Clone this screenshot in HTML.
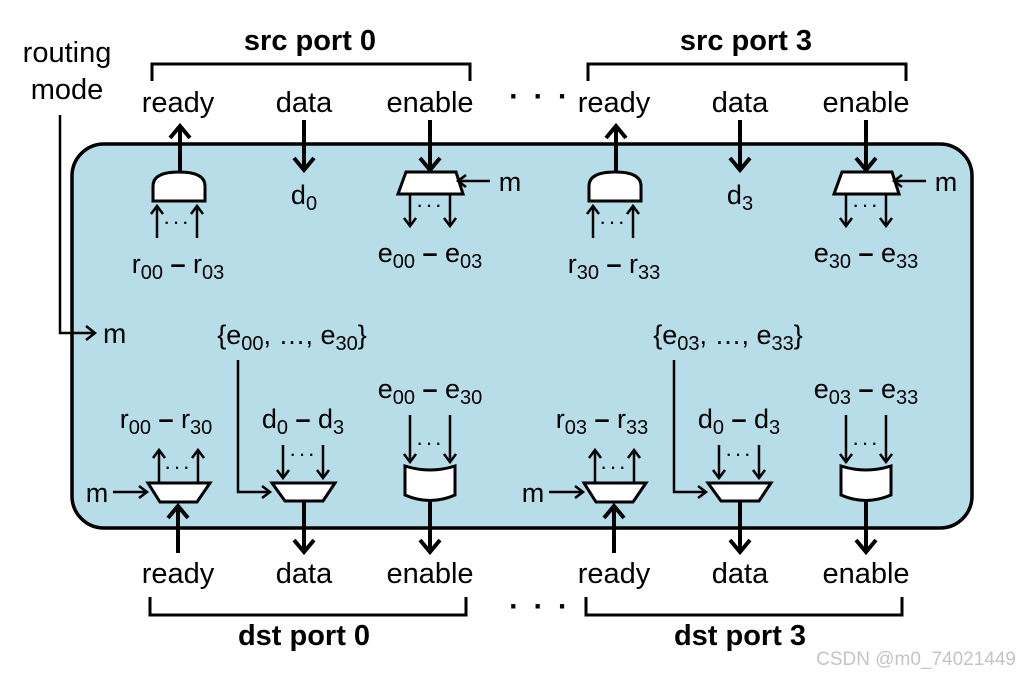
<!DOCTYPE html>
<html><head><meta charset="utf-8"><style>
html,body{margin:0;padding:0;background:#fff;}
svg{display:block;}
text{font-family:"Liberation Sans",Arial,sans-serif;fill:#000;}
</style></head><body>
<svg width="1020" height="674" viewBox="0 0 1020 674" xmlns="http://www.w3.org/2000/svg">
<!-- container -->
<rect x="72" y="144" width="900" height="384" rx="32" ry="32" fill="#b7dde8" stroke="#000" stroke-width="3.5"/>

<!-- routing mode -->
<text x="67" y="62" font-size="29" text-anchor="middle">routing</text>
<text x="67" y="99" font-size="29" text-anchor="middle">mode</text>
<polyline points="60,115 60,333 95,333" fill="none" stroke="#000" stroke-width="2.5"/>
<polyline points="86,326 95,333 86,340" fill="none" stroke="#000" stroke-width="2.5"/>
<text x="103" y="343" font-size="28">m</text>

<!-- dots -->
<text x="540" y="106" font-size="30" text-anchor="middle" font-weight="bold" letter-spacing="3">· · ·</text>
<text x="540" y="616" font-size="30" text-anchor="middle" font-weight="bold" letter-spacing="3">· · ·</text>

<!-- watermark -->
<text x="1016" y="665" font-size="19" text-anchor="end" style="fill:#c4c4c4">CSDN @m0_74021449</text>

<g id="port0">
  <polyline points="152,81 152,64 470,64 470,81" fill="none" stroke="#000" stroke-width="3"/>
  <polyline points="150,597 150,615 466,615 466,597" fill="none" stroke="#000" stroke-width="3"/>
  <text x="178" y="112" font-size="29" text-anchor="middle">ready</text>
  <text x="304" y="112" font-size="29" text-anchor="middle">data</text>
  <text x="430" y="112" font-size="29" text-anchor="middle">enable</text>
  <text x="178" y="583" font-size="29" text-anchor="middle">ready</text>
  <text x="304" y="583" font-size="29" text-anchor="middle">data</text>
  <text x="430" y="583" font-size="29" text-anchor="middle">enable</text>

  <line x1="180" y1="172" x2="180" y2="126" stroke="#000" stroke-width="4"/>
  <polyline points="170,138 180,126 190,138" fill="none" stroke="#000" stroke-width="4"/>
  <path d="M153,201 L153,186 Q153,172 179,172 Q205,172 205,186 L205,201 Z" fill="#fff" stroke="#000" stroke-width="3"/>
  <line x1="157" y1="238" x2="157" y2="206" stroke="#000" stroke-width="2.5"/>
  <polyline points="151,214 157,206 163,214" fill="none" stroke="#000" stroke-width="2.5"/>
  <line x1="197" y1="238" x2="197" y2="206" stroke="#000" stroke-width="2.5"/>
  <polyline points="191,214 197,206 203,214" fill="none" stroke="#000" stroke-width="2.5"/>
  <text x="177" y="229" font-size="22" text-anchor="middle" letter-spacing="2">···</text>

  <line x1="304" y1="120" x2="304" y2="170" stroke="#000" stroke-width="4"/>
  <polyline points="294,158 304,170 314,158" fill="none" stroke="#000" stroke-width="4"/>

  <line x1="430" y1="120" x2="430" y2="170" stroke="#000" stroke-width="4"/>
  <polyline points="420,158 430,170 440,158" fill="none" stroke="#000" stroke-width="4"/>
  <polygon points="406,172 456,172 463,194 398,194" fill="#fff" stroke="#000" stroke-width="3"/>
  <line x1="458" y1="181" x2="490" y2="181" stroke="#000" stroke-width="2.5"/>
  <polyline points="466,175 458,181 466,187" fill="none" stroke="#000" stroke-width="2.5"/>
  <line x1="410" y1="195" x2="410" y2="226" stroke="#000" stroke-width="2.5"/>
  <polyline points="404,218 410,226 416,218" fill="none" stroke="#000" stroke-width="2.5"/>
  <line x1="450" y1="195" x2="450" y2="226" stroke="#000" stroke-width="2.5"/>
  <polyline points="444,218 450,226 456,218" fill="none" stroke="#000" stroke-width="2.5"/>
  <text x="430" y="212" font-size="22" text-anchor="middle" letter-spacing="2">···</text>

  <polygon points="148,483 210,483 197,502 160,502" fill="#fff" stroke="#000" stroke-width="3"/>
  <line x1="113" y1="492" x2="147" y2="492" stroke="#000" stroke-width="2.5"/>
  <polyline points="139,486 147,492 139,498" fill="none" stroke="#000" stroke-width="2.5"/>
  <line x1="159" y1="482" x2="159" y2="450" stroke="#000" stroke-width="2.5"/>
  <polyline points="153,458 159,450 165,458" fill="none" stroke="#000" stroke-width="2.5"/>
  <line x1="198" y1="482" x2="198" y2="450" stroke="#000" stroke-width="2.5"/>
  <polyline points="192,458 198,450 204,458" fill="none" stroke="#000" stroke-width="2.5"/>
  <text x="178" y="474" font-size="22" text-anchor="middle" letter-spacing="2">···</text>
  <line x1="178" y1="553" x2="178" y2="506" stroke="#000" stroke-width="4"/>
  <polyline points="168,518 178,506 188,518" fill="none" stroke="#000" stroke-width="4"/>

  <polyline points="238,360 238,492 270,492" fill="none" stroke="#000" stroke-width="2.5"/>
  <polyline points="262,486 270,492 262,498" fill="none" stroke="#000" stroke-width="2.5"/>
  <polygon points="272,483 335,483 323,501 285,501" fill="#fff" stroke="#000" stroke-width="3"/>
  <line x1="283" y1="445" x2="283" y2="478" stroke="#000" stroke-width="2.5"/>
  <polyline points="277,470 283,478 289,470" fill="none" stroke="#000" stroke-width="2.5"/>
  <line x1="323" y1="445" x2="323" y2="478" stroke="#000" stroke-width="2.5"/>
  <polyline points="317,470 323,478 329,470" fill="none" stroke="#000" stroke-width="2.5"/>
  <text x="303" y="461" font-size="22" text-anchor="middle" letter-spacing="2">···</text>
  <line x1="304" y1="502" x2="304" y2="552" stroke="#000" stroke-width="4"/>
  <polyline points="294,540 304,552 314,540" fill="none" stroke="#000" stroke-width="4"/>

  <path d="M405,466 Q430,474 455,466 L455,495 Q430,506 405,495 Z" fill="#fff" stroke="#000" stroke-width="3"/>
  <line x1="410" y1="415" x2="410" y2="462" stroke="#000" stroke-width="2.5"/>
  <polyline points="404,454 410,462 416,454" fill="none" stroke="#000" stroke-width="2.5"/>
  <line x1="450" y1="415" x2="450" y2="462" stroke="#000" stroke-width="2.5"/>
  <polyline points="444,454 450,462 456,454" fill="none" stroke="#000" stroke-width="2.5"/>
  <text x="430" y="450" font-size="22" text-anchor="middle" letter-spacing="2">···</text>
  <line x1="430" y1="502" x2="430" y2="552" stroke="#000" stroke-width="4"/>
  <polyline points="420,540 430,552 440,540" fill="none" stroke="#000" stroke-width="4"/>
</g>
<use href="#port0" transform="translate(436,0)"/>

<text x="310" y="50" font-size="29" font-weight="bold" text-anchor="middle">src port 0</text>
<text x="746" y="50" font-size="29" font-weight="bold" text-anchor="middle">src port 3</text>
<text x="304" y="645" font-size="29" font-weight="bold" text-anchor="middle">dst port 0</text>
<text x="740" y="645" font-size="29" font-weight="bold" text-anchor="middle">dst port 3</text>

<g font-size="27">
<text x="304" y="204" text-anchor="middle">d<tspan font-size="20" dy="6">0</tspan></text>
<text x="178" y="273" text-anchor="middle">r<tspan font-size="20" dy="6">00</tspan><tspan dy="-6" font-weight="bold"> – </tspan><tspan>r</tspan><tspan font-size="20" dy="6">03</tspan></text>
<text x="430" y="262" text-anchor="middle">e<tspan font-size="20" dy="6">00</tspan><tspan dy="-6" font-weight="bold"> – </tspan><tspan>e</tspan><tspan font-size="20" dy="6">03</tspan></text>
<text x="292" y="344" text-anchor="middle">{e<tspan font-size="20" dy="6">00</tspan><tspan dy="-6">, …, e</tspan><tspan font-size="20" dy="6">30</tspan><tspan dy="-6">}</tspan></text>
<text x="166" y="428" text-anchor="middle">r<tspan font-size="20" dy="6">00</tspan><tspan dy="-6" font-weight="bold"> – </tspan><tspan>r</tspan><tspan font-size="20" dy="6">30</tspan></text>
<text x="303" y="428" text-anchor="middle">d<tspan font-size="20" dy="6">0</tspan><tspan dy="-6" font-weight="bold"> – </tspan><tspan>d</tspan><tspan font-size="20" dy="6">3</tspan></text>
<text x="430" y="398" text-anchor="middle">e<tspan font-size="20" dy="6">00</tspan><tspan dy="-6" font-weight="bold"> – </tspan><tspan>e</tspan><tspan font-size="20" dy="6">30</tspan></text>
<text x="97" y="502" text-anchor="middle">m</text>
<text x="510" y="191" text-anchor="middle">m</text>
</g>
<g font-size="27">
<text x="740" y="204" text-anchor="middle">d<tspan font-size="20" dy="6">3</tspan></text>
<text x="614" y="273" text-anchor="middle">r<tspan font-size="20" dy="6">30</tspan><tspan dy="-6" font-weight="bold"> – </tspan><tspan>r</tspan><tspan font-size="20" dy="6">33</tspan></text>
<text x="866" y="262" text-anchor="middle">e<tspan font-size="20" dy="6">30</tspan><tspan dy="-6" font-weight="bold"> – </tspan><tspan>e</tspan><tspan font-size="20" dy="6">33</tspan></text>
<text x="728" y="344" text-anchor="middle">{e<tspan font-size="20" dy="6">03</tspan><tspan dy="-6">, …, e</tspan><tspan font-size="20" dy="6">33</tspan><tspan dy="-6">}</tspan></text>
<text x="602" y="428" text-anchor="middle">r<tspan font-size="20" dy="6">03</tspan><tspan dy="-6" font-weight="bold"> – </tspan><tspan>r</tspan><tspan font-size="20" dy="6">33</tspan></text>
<text x="739" y="428" text-anchor="middle">d<tspan font-size="20" dy="6">0</tspan><tspan dy="-6" font-weight="bold"> – </tspan><tspan>d</tspan><tspan font-size="20" dy="6">3</tspan></text>
<text x="866" y="398" text-anchor="middle">e<tspan font-size="20" dy="6">03</tspan><tspan dy="-6" font-weight="bold"> – </tspan><tspan>e</tspan><tspan font-size="20" dy="6">33</tspan></text>
<text x="533" y="502" text-anchor="middle">m</text>
<text x="946" y="191" text-anchor="middle">m</text>
</g>
</svg>
</body></html>
